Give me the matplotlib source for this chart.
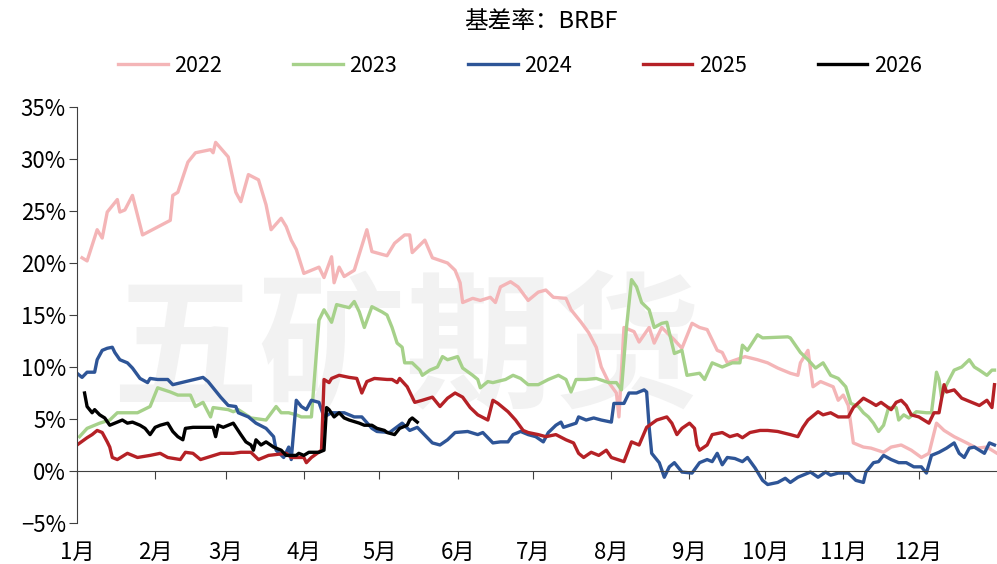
import matplotlib
matplotlib.use('Agg')
import matplotlib.pyplot as plt
from matplotlib.ticker import FuncFormatter

plt.rcParams['font.family'] = ['Noto Sans CJK SC', 'DejaVu Sans']
plt.rcParams['axes.unicode_minus'] = True

# x = day of year, y = basis rate (%)
days_2022 = [2, 4, 8, 10, 12, 16, 17, 19, 22, 24,
             26, 37, 38, 40, 44, 47, 53, 54, 55, 60,
             63, 65, 68, 72, 75, 77, 81, 83, 85, 87,
             90, 96, 98, 101, 102, 104, 106, 110, 115, 117,
             123, 126, 130, 132, 133, 138, 141, 147, 150, 152,
             153, 157, 160, 164, 166, 168, 172, 175, 179, 183,
             186, 189, 194, 196, 200, 203, 206, 208, 211, 214,
             215, 217, 221, 223, 227, 229, 232, 237, 240, 244,
             247, 250, 252, 254, 256, 258, 265, 270, 274, 278,
             283, 286, 287, 290, 292, 295, 300, 302, 304, 306,
             308, 312, 315, 320, 323, 327, 331, 335, 338, 341,
             344, 348, 353, 357, 361, 363, 365]
vals_2022 = [20.5, 20.2, 23.2, 22.4, 24.9, 26.1, 24.9, 25.1, 26.5, 24.6,
             22.7, 24.1, 26.5, 26.8, 29.7, 30.6, 30.9, 30.6, 31.6, 30.2,
             26.8, 25.9, 28.5, 28.0, 25.6, 23.2, 24.3, 23.5, 22.2, 21.3,
             19.0, 19.6, 18.6, 20.6, 18.1, 19.6, 18.7, 19.3, 23.2, 21.1,
             20.7, 21.9, 22.7, 22.7, 21.0, 22.2, 20.5, 20.0, 19.3, 18.1,
             16.2, 16.6, 16.4, 16.7, 16.2, 17.7, 18.2, 17.7, 16.4, 17.2,
             17.4, 16.7, 16.6, 15.5, 14.3, 13.3, 11.9, 10.0, 8.5, 7.5,
             5.2, 13.8, 13.4, 12.4, 13.8, 12.3, 13.8, 12.6, 11.8, 14.2,
             13.8, 13.6, 12.6, 11.6, 11.4, 10.4, 11.0, 10.7, 10.4, 9.9,
             9.4, 9.2, 10.4, 11.6, 8.1, 8.6, 8.1, 6.8, 7.3, 6.3,
             2.7, 2.3, 2.2, 1.8, 2.3, 2.5, 2.0, 1.3, 1.7, 4.6,
             3.9, 3.3, 2.7, 2.2, 2.3, 2.0, 1.7]

days_2023 = [1, 4, 9, 13, 16, 24, 29, 32, 37, 40,
             45, 47, 50, 53, 54, 60, 62, 64, 69, 75,
             79, 81, 84, 87, 89, 93, 96, 98, 101, 103,
             108, 110, 112, 114, 117, 121, 123, 125, 127, 129,
             130, 133, 136, 137, 140, 143, 145, 147, 151, 153,
             157, 159, 160, 163, 165, 170, 173, 176, 179, 183,
             187, 191, 194, 196, 198, 202, 206, 211, 214, 216,
             218, 220, 222, 224, 227, 229, 232, 234, 237, 240,
             242, 247, 249, 252, 256, 260, 263, 264, 266, 270,
             272, 282, 283, 287, 290, 293, 296, 299, 302, 305,
             307, 310, 312, 314, 316, 318, 320, 322, 325, 326,
             328, 330, 333, 337, 339, 341, 342, 343, 345, 348,
             351, 354, 356, 358, 361, 363, 364]
vals_2023 = [3.3, 4.1, 4.6, 4.9, 5.6, 5.6, 6.2, 8.0, 7.6, 7.3,
             7.3, 6.2, 6.6, 5.2, 6.1, 5.9, 5.7, 5.9, 5.1, 4.9,
             6.2, 5.6, 5.6, 5.4, 5.2, 5.2, 14.5, 15.5, 14.3, 16.0,
             15.7, 16.3, 15.3, 13.8, 15.8, 15.3, 15.0, 13.8, 12.3, 11.9,
             10.4, 10.4, 9.7, 9.2, 9.7, 10.0, 11.0, 10.7, 11.0, 9.9,
             9.2, 8.8, 8.0, 8.6, 8.5, 8.8, 9.2, 8.9, 8.3, 8.3,
             8.8, 9.2, 8.8, 7.6, 8.8, 8.8, 8.9, 8.5, 8.5, 7.8,
             13.8, 18.4, 17.7, 16.2, 15.5, 13.8, 14.2, 14.3, 11.3, 11.6,
             9.2, 9.4, 8.8, 10.4, 10.0, 10.4, 10.4, 12.1, 11.6, 13.1,
             12.8, 12.9, 12.8, 11.4, 10.7, 9.9, 10.4, 9.2, 8.9, 8.1,
             6.5, 6.2, 5.6, 5.2, 4.6, 3.8, 4.4, 6.1, 6.1, 4.9,
             5.4, 5.1, 5.7, 5.6, 5.6, 9.5, 8.8, 7.1, 8.3, 9.7,
             10.0, 10.7, 10.0, 9.7, 9.2, 9.7, 9.7]

days_2024 = [0, 2, 4, 7, 8, 10, 12, 14, 15, 17,
             20, 22, 25, 28, 29, 32, 36, 38, 50, 52,
             54, 57, 60, 63, 64, 68, 71, 75, 78, 79,
             82, 84, 85, 87, 89, 91, 93, 96, 98, 101,
             106, 110, 113, 117, 119, 124, 129, 132, 135, 137,
             141, 144, 147, 150, 155, 159, 161, 165, 168, 171,
             173, 176, 179, 182, 185, 187, 190, 192, 193, 198,
             199, 202, 205, 208, 212, 213, 217, 219, 222, 225,
             226, 227, 228, 231, 233, 235, 237, 240, 244, 247,
             250, 252, 254, 256, 258, 261, 264, 266, 269, 272,
             274, 278, 281, 283, 286, 291, 294, 297, 299, 302,
             306, 309, 312, 313, 316, 318, 320, 323, 326, 329,
             332, 335, 337, 339, 342, 345, 348, 350, 352, 354,
             356, 360, 362, 364]
vals_2024 = [9.4, 9.0, 9.5, 9.5, 10.7, 11.6, 11.8, 11.9, 11.4, 10.7,
             10.4, 9.9, 8.9, 8.5, 8.9, 8.8, 8.8, 8.3, 9.0, 8.6,
             8.0, 7.1, 6.3, 6.2, 5.6, 5.2, 4.6, 4.1, 3.3, 2.0,
             1.3, 2.3, 1.1, 6.8, 6.2, 5.9, 6.8, 6.6, 5.2, 5.6,
             5.6, 5.2, 5.2, 4.1, 3.8, 3.7, 4.6, 3.9, 4.2, 3.7,
             2.7, 2.5, 3.0, 3.7, 3.8, 3.5, 3.7, 2.7, 2.8, 2.8,
             3.5, 3.8, 3.5, 3.3, 2.8, 3.7, 4.4, 4.7, 4.2, 4.6,
             5.2, 4.9, 5.1, 4.9, 4.7, 6.5, 6.5, 7.5, 7.5, 7.8,
             7.6, 4.2, 1.7, 0.8, -0.6, 0.4, 0.8, -0.1, -0.2, 0.8,
             1.1, 0.9, 1.7, 0.6, 1.3, 1.2, 0.9, 1.3, 0.3, -0.9,
             -1.3, -1.1, -0.7, -1.1, -0.6, -0.1, -0.6, -0.1, -0.4, -0.2,
             -0.2, -0.9, -1.1, -0.1, 0.8, 0.9, 1.5, 1.1, 0.8, 0.8,
             0.4, 0.4, -0.2, 1.5, 1.8, 2.2, 2.7, 1.7, 1.3, 2.2,
             2.3, 1.7, 2.7, 2.5]

days_2025 = [0, 4, 6, 8, 10, 12, 13, 14, 16, 20,
             24, 29, 33, 36, 41, 43, 46, 49, 57, 62,
             65, 69, 72, 76, 83, 85, 90, 91, 93, 97,
             98, 100, 101, 104, 108, 111, 113, 115, 118, 123,
             125, 127, 128, 131, 134, 137, 141, 144, 147, 150,
             153, 156, 159, 163, 165, 167, 171, 174, 177, 179,
             183, 186, 190, 194, 197, 199, 201, 204, 207, 210,
             212, 217, 220, 223, 226, 230, 234, 236, 238, 240,
             243, 245, 246, 247, 250, 252, 256, 259, 262, 264,
             267, 271, 274, 278, 283, 286, 288, 290, 294, 296,
             299, 302, 306, 308, 312, 315, 317, 319, 323, 325,
             327, 329, 331, 334, 336, 338, 340, 342, 344, 345,
             348, 351, 356, 358, 361, 363, 364]
vals_2025 = [2.5, 3.2, 3.5, 3.9, 3.7, 2.8, 2.3, 1.3, 1.1, 1.7,
             1.3, 1.5, 1.7, 1.3, 1.1, 1.8, 1.7, 1.1, 1.7, 1.7,
             1.8, 1.8, 1.1, 1.5, 1.7, 1.3, 1.3, 0.8, 1.3, 2.0,
             8.8, 8.5, 8.9, 9.2, 9.0, 8.9, 7.5, 8.6, 8.9, 8.8,
             8.8, 8.5, 8.9, 8.1, 6.6, 6.8, 7.1, 6.2, 7.0, 7.5,
             7.1, 6.1, 5.4, 4.9, 6.8, 6.5, 5.7, 4.9, 3.9, 3.7,
             3.5, 3.3, 3.5, 3.0, 2.7, 1.7, 1.3, 1.8, 1.5, 2.0,
             1.3, 0.9, 2.8, 2.5, 4.2, 4.9, 5.2, 4.6, 3.5, 4.1,
             4.6, 4.1, 2.5, 2.0, 2.5, 3.5, 3.7, 3.3, 3.5, 3.2,
             3.7, 3.9, 3.9, 3.8, 3.5, 3.3, 4.2, 4.9, 5.7, 5.4,
             5.6, 5.2, 5.2, 6.1, 7.0, 6.6, 6.3, 6.6, 5.9, 6.6,
             6.8, 6.3, 5.4, 5.2, 4.9, 4.6, 5.6, 5.6, 8.3, 7.6,
             7.8, 7.0, 6.5, 6.3, 6.8, 6.1, 8.3]

days_2026 = [3, 4, 6, 7, 9, 11, 13, 15, 18, 20,
             22, 25, 27, 29, 31, 33, 36, 38, 40, 42,
             43, 46, 54, 55, 56, 58, 62, 65, 67, 69,
             70, 71, 73, 75, 78, 81, 83, 87, 88, 90,
             92, 96, 98, 99, 100, 102, 104, 106, 108, 112,
             114, 117, 119, 122, 123, 126, 128, 131, 132, 133,
             135]
vals_2026 = [7.5, 6.2, 5.6, 5.9, 5.4, 5.1, 4.4, 4.6, 4.9, 4.6,
             4.7, 4.4, 4.1, 3.5, 4.2, 4.4, 4.6, 3.8, 3.3, 3.0,
             4.1, 4.2, 4.2, 3.3, 4.4, 4.2, 4.6, 3.5, 2.8, 2.5,
             2.0, 3.0, 2.5, 2.8, 2.3, 2.0, 1.5, 1.5, 1.7, 1.5,
             1.8, 1.8, 2.0, 6.1, 5.9, 5.2, 5.6, 5.1, 4.9, 4.6,
             4.4, 4.4, 4.1, 3.9, 3.7, 3.5, 4.1, 4.4, 4.9, 5.1,
             4.7]

month_starts = [0, 31, 59, 90, 120, 151, 181, 212, 243, 273, 304, 334]
month_labels = ['1月', '2月', '3月', '4月', '5月', '6月',
                '7月', '8月', '9月', '10月', '11月', '12月']

series = [
    ('2022', days_2022, vals_2022, '#F4B5B7'),
    ('2023', days_2023, vals_2023, '#A6D18A'),
    ('2024', days_2024, vals_2024, '#2E5597'),
    ('2025', days_2025, vals_2025, '#B52126'),
    ('2026', days_2026, vals_2026, '#000000'),
]

fig = plt.figure(figsize=(9.97, 5.64), dpi=100)
ax = fig.add_axes([77 / 997, 41 / 564, 920 / 997, 416 / 564])

# watermark
ax.text(0.357, 0.41, '五矿期货', transform=ax.transAxes, fontsize=106,
        fontweight='bold', color='#F2F2F2', ha='center', va='center', zorder=0)

for name, d, v, c in series:
    ax.plot(d, v, color=c, lw=2.4, label=name, zorder=2)

ax.set_xlim(0, 365)
ax.set_ylim(-5, 35)
ax.set_yticks(range(-5, 36, 5))
ax.yaxis.set_major_formatter(FuncFormatter(lambda v, p: f'{v:.0f}%'.replace('-', '\u2212')))
ax.set_xticks(month_starts)
ax.set_xticklabels(month_labels)

for s in ['top', 'right']:
    ax.spines[s].set_visible(False)
ax.spines['bottom'].set_position(('data', 0))
ax.spines['left'].set_color('#404040')
ax.spines['bottom'].set_color('#404040')
ax.tick_params(axis='y', direction='out', length=6, labelsize=16, pad=2,
               colors='#404040', labelcolor='black')
ax.tick_params(axis='x', direction='out', length=6, labelsize=16, pad=44,
               colors='#404040', labelcolor='black')

fig.text(541 / 997, 1 - 22 / 564, '基差率：BRBF', ha='center', va='center', fontsize=17)
fig.legend(loc='center', bbox_to_anchor=(520 / 997, 1 - 66 / 564), ncol=5, frameon=False,
           fontsize=15.5, handlelength=2.3, handletextpad=0.3, columnspacing=3.3)

fig.savefig('out.png', dpi=100)
